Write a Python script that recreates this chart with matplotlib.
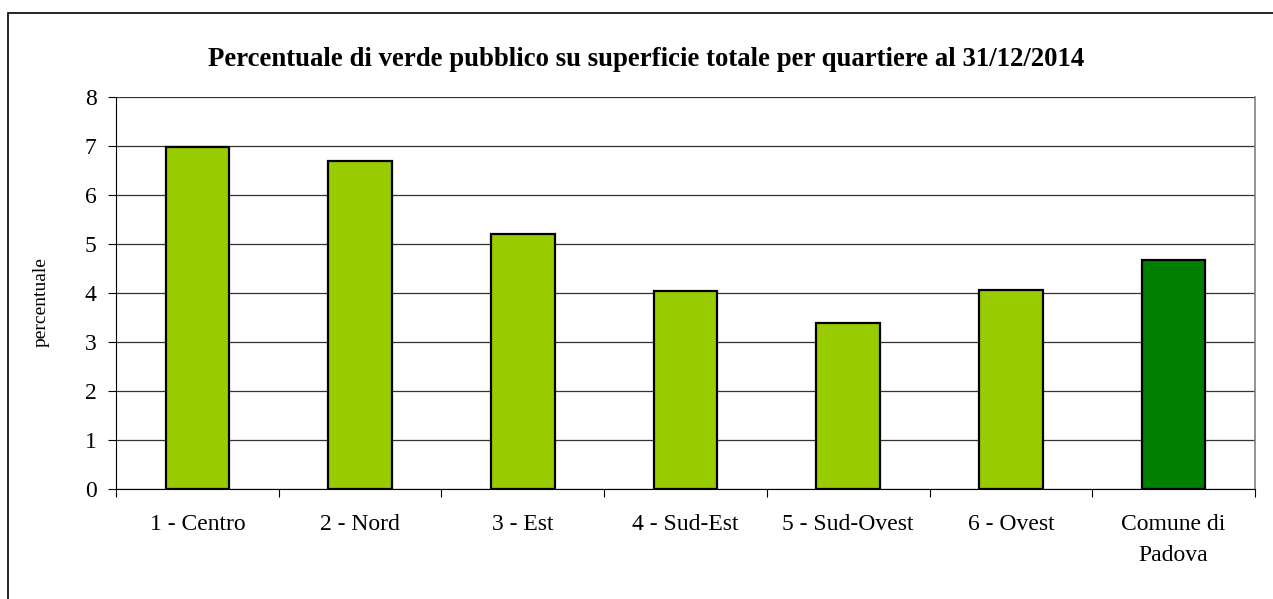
import matplotlib
matplotlib.use("Agg")
import matplotlib.pyplot as plt
from matplotlib.patches import Rectangle
import numpy as np

categories = ["1 - Centro", "2 - Nord", "3 - Est", "4 - Sud-Est", "5 - Sud-Ovest", "6 - Ovest", "Comune di\nPadova"]
values = [6.98, 6.69, 5.21, 4.04, 3.38, 4.07, 4.68]
colors = ["#99CC00"] * 6 + ["#008000"]
title = "Percentuale di verde pubblico su superficie totale per quartiere al 31/12/2014"
ylabel = "percentuale"

W, H = 1273, 599
fig = plt.figure(figsize=(W / 100, H / 100), dpi=100)
plt.rcParams["font.family"] = ["Liberation Serif", "DejaVu Serif"]

# outer border (top & left visible)
fig.patches.append(Rectangle((8 / W, -0.1), 1.2, (H - 13) / H + 0.1, transform=fig.transFigure,
                             fill=False, edgecolor="black", linewidth=1.2))

left, right, top, bottom = 116, 1255, 97, 489
ax = fig.add_axes([left / W, 1 - bottom / H, (right - left) / W, (bottom - top) / H])

x = np.arange(len(categories))
ax.bar(x, values, width=0.39, color=colors, edgecolor="black", linewidth=1.6, zorder=3)
ax.set_xlim(-0.5, len(categories) - 0.5)
ax.set_ylim(0, 8)
ax.set_yticks(range(0, 9))
ax.yaxis.grid(True, color="#333333", linewidth=0.9, zorder=0)
ax.set_axisbelow(True)

ax.set_xticks(x)
ax.set_xticklabels(categories, fontsize=17, linespacing=1.65)
ax.tick_params(axis="x", length=0, pad=18)
ax.set_xticks(np.arange(-0.5, len(categories)), minor=True)
ax.tick_params(axis="x", which="minor", length=6, direction="out", width=0.8)
ax.tick_params(axis="y", length=6, direction="out", width=0.8, labelsize=17, pad=8)

ax.spines["top"].set_visible(False)
ax.spines["right"].set_color("#808080")
ax.spines["right"].set_linewidth(1.2)
ax.spines["left"].set_linewidth(0.8)
ax.spines["bottom"].set_linewidth(0.8)

ax.set_ylabel(ylabel, fontsize=14)
ax.yaxis.set_label_coords((50 - left) / (right - left), (bottom - 302) / (bottom - top))
fig.text(646 / W, 1 - 59 / H, title, ha="center", va="center",
         fontsize=19.3, fontweight="bold")

fig.savefig("out.png", dpi=100)
